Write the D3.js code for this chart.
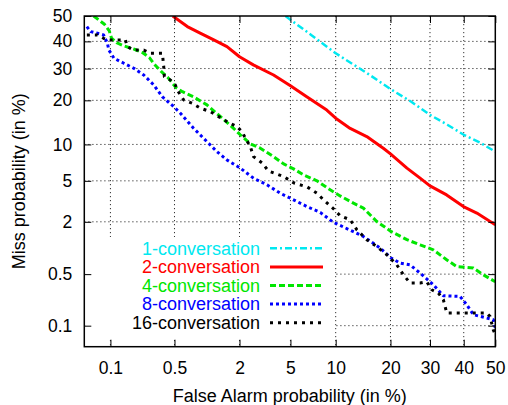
<!DOCTYPE html>
<html><head><meta charset="utf-8">
<script src="https://cdn.jsdelivr.net/npm/d3@7"></script>
<style>body{margin:0;background:#fff}svg{display:block}</style>
</head><body>
<svg id="chart" width="508" height="405"></svg>
<script>
// ---- data (percent values) ----
const tickValues = [0.1, 0.5, 2, 5, 10, 20, 30, 40, 50];
const tickLabels = ["0.1", "0.5", "2", "5", "10", "20", "30", "40", "50"];
const seriesNames = ["1-conversation", "2-conversation", "4-conversation", "8-conversation", "16-conversation"];

// [false alarm %, miss %]
const conv1 = [[4.6,50],[7,42.4],[10,35.5],[15,28.6],[20,23.3],[25,19.6],[30,16.2],[35,13.9],[40,11.8],[45,10.35],[50,8.8]];
const conv2 = [[0.48,50],[0.67,45.8],[0.89,43.2],[1.19,40.6],[1.56,38.0],[2.0,34.2],[2.6,31.3],[3.75,27.8],[5.0,24.3],[6.5,21.0],[8.8,17.4],[10,15.4],[12.2,13.1],[15.1,11.45],[18.5,9.3],[20,8.45],[23.9,6.45],[27.3,5.28],[30,4.5],[34.8,3.71],[39.9,2.86],[44.1,2.46],[50,1.86]];
const conv4 = [[0.063,50],[0.085,46.7],[0.097,44.1],[0.103,41.3],[0.118,39.5],[0.145,38.2],[0.188,37.0],[0.232,35.7],[0.274,33.9],[0.31,31.5],[0.365,29.0],[0.427,27.0],[0.52,23.7],[0.60,22.5],[0.77,21.0],[1.03,18.75],[1.36,15.8],[1.78,13.1],[2.03,11.8],[2.46,10.1],[2.96,9.36],[3.75,8.03],[4.46,7.0],[5.26,6.36],[6.18,5.65],[7.61,5.0],[9.24,4.14],[10.64,3.63],[12.74,3.09],[14.48,2.76],[17.08,2.01],[20.2,1.57],[23.9,1.28],[27.3,1.12],[30.95,0.98],[34.8,0.75],[37.85,0.62],[43.0,0.595],[46.2,0.49],[50,0.40]];
const conv8 = [[0.052,45.75],[0.058,43.8],[0.070,43.15],[0.083,42.5],[0.092,39.3],[0.096,36.7],[0.110,33.66],[0.143,31.86],[0.185,30.1],[0.238,27.8],[0.305,24.57],[0.374,21.05],[0.49,18.3],[0.573,16.6],[0.77,13.14],[1.03,10.5],[1.27,8.8],[1.56,7.55],[2.03,6.45],[2.61,5.28],[3.34,4.6],[4.21,3.85],[5.26,3.33],[6.53,2.86],[7.99,2.5],[9.70,1.97],[12.74,1.57],[14.48,1.39],[17.76,1.03],[20.16,0.785],[22.24,0.683],[24.7,0.65],[27.3,0.515],[30.95,0.366],[33.83,0.262],[38.86,0.257],[40.93,0.198],[43.0,0.144],[47.25,0.129],[49.36,0.122],[50,0.093]];
const conv16 = [[0.052,42.5],[0.070,42.5],[0.083,41.2],[0.092,40.55],[0.149,40.55],[0.156,38.0],[0.185,36.7],[0.238,36.7],[0.281,35.5],[0.376,35.5],[0.388,30.66],[0.394,27.26],[0.454,26.17],[0.51,24.57],[0.531,23.03],[0.617,20.12],[0.745,19.2],[0.894,17.88],[1.105,17.0],[1.317,15.77],[1.56,14.6],[1.90,13.48],[2.10,12.43],[2.24,11.14],[2.46,9.63],[2.61,8.03],[3.07,7.10],[3.42,6.11],[4.46,5.46],[5.26,4.80],[6.53,4.41],[7.61,3.85],[8.39,3.33],[9.70,2.72],[10.64,2.31],[12.2,2.10],[13.33,1.64],[15.1,1.28],[17.08,1.07],[19.19,0.86],[21.46,0.65],[23.03,0.49],[24.7,0.385],[27.3,0.385],[29.12,0.40],[30.5,0.315],[32.38,0.285],[33.83,0.232],[34.84,0.152],[41.96,0.152],[47.25,0.152],[48.3,0.136],[49.36,0.087],[50,0.074]];

// ---- styles ----
const seriesData = [conv1, conv2, conv4, conv8, conv16];
const seriesColors = ["#00e8f0", "#ff0000", "#00e600", "#0000ff", "#000000"];
const seriesDash = ["7,3,2,3", null, "6,3", "3,3", "3,5"];
const seriesWidth = [2.5, 3, 3, 3, 3];

// inverse normal CDF (Acklam)
function probit(p){
  const a=[-3.969683028665376e+01,2.209460984245205e+02,-2.759285104469687e+02,1.383577518672690e+02,-3.066479806614716e+01,2.506628277459239e+00];
  const b=[-5.447609879822406e+01,1.615858368580409e+02,-1.556989798598866e+02,6.680131188771972e+01,-1.328068155288572e+01];
  const c=[-7.784894002430293e-03,-3.223964580411365e-01,-2.400758277161838e+00,-2.549732539343734e+00,4.374664141464968e+00,2.938163982698783e+00];
  const d=[7.784695709041462e-03,3.224671290700398e-01,2.445134137142996e+00,3.754408661907416e+00];
  const pl=0.02425;
  if(p<pl){const q=Math.sqrt(-2*Math.log(p));return (((((c[0]*q+c[1])*q+c[2])*q+c[3])*q+c[4])*q+c[5])/((((d[0]*q+d[1])*q+d[2])*q+d[3])*q+1);}
  if(p<=1-pl){const q=p-0.5,r=q*q;return (((((a[0]*r+a[1])*r+a[2])*r+a[3])*r+a[4])*r+a[5])*q/(((((b[0]*r+b[1])*r+b[2])*r+b[3])*r+b[4])*r+1);}
  const q=Math.sqrt(-2*Math.log(1-p));return -(((((c[0]*q+c[1])*q+c[2])*q+c[3])*q+c[4])*q+c[5])/((((d[0]*q+d[1])*q+d[2])*q+d[3])*q+1);
}

const L = 84.3, R = 495.3, T = 16, B = 346.7;
const xLin = d3.scaleLinear().domain([-3.3, 0]).range([L, R]);
const yLin = d3.scaleLinear().domain([-3.3, 0]).range([B, T]);
const xs = v => xLin(probit(v / 100));
const ys = v => yLin(probit(v / 100));
const tickProbit = tickValues.map(t => probit(t / 100));

const svg = d3.select("#chart");
const font = "'Liberation Sans', Arial, Helvetica, sans-serif";

// grid
const grid = svg.append("g").attr("stroke", "#333").attr("stroke-width", 1).attr("stroke-dasharray", "1.2,2.8");
grid.selectAll("line.gx").data(tickProbit.filter(v => v < -0.001)).join("line")
  .attr("x1", d => xLin(d)).attr("x2", d => xLin(d)).attr("y1", T).attr("y2", B);
grid.selectAll("line.gy").data(tickProbit.filter(v => v < -0.001)).join("line").attr("class","gy")
  .attr("y1", d => yLin(d)).attr("y2", d => yLin(d)).attr("x1", L).attr("x2", R);

// legend background
svg.append("rect").attr("x", L + 1).attr("y", 237).attr("width", 334 - L - 1).attr("height", 103).attr("fill", "#fff");

// curves
svg.append("clipPath").attr("id", "clip").append("rect")
  .attr("x", L).attr("y", T).attr("width", R - L).attr("height", B - T);
const line = d3.line().x(d => xs(d[0])).y(d => ys(d[1]));
const curves = svg.append("g").attr("clip-path", "url(#clip)");
seriesData.forEach((s, i) => {
  curves.append("path").datum(s).attr("d", line).attr("fill", "none")
    .attr("stroke", seriesColors[i]).attr("stroke-width", seriesWidth[i])
    .attr("stroke-dasharray", seriesDash[i]).attr("stroke-linejoin", "round");
});

// axes (inward mirrored ticks)
function styleAxis(g){ g.select(".domain").remove(); g.selectAll("line").attr("stroke","#000").attr("stroke-width",1);
  g.selectAll("text").attr("font-family", font).attr("font-size", "17.5px").attr("fill", "#000"); }
svg.append("g").attr("transform", `translate(0,${B})`)
  .call(d3.axisBottom(xLin).tickValues(tickProbit).tickFormat((d,i) => tickLabels[i]).tickSizeInner(-7).tickSizeOuter(0).tickPadding(15))
  .call(styleAxis);
svg.append("g").attr("transform", `translate(0,${T})`)
  .call(d3.axisTop(xLin).tickValues(tickProbit).tickFormat("").tickSizeInner(-7).tickSizeOuter(0)).call(styleAxis);
svg.append("g").attr("transform", `translate(${L},0)`)
  .call(d3.axisLeft(yLin).tickValues(tickProbit).tickFormat((d,i) => tickLabels[i]).tickSizeInner(-7).tickSizeOuter(0).tickPadding(12))
  .call(styleAxis);
svg.append("g").attr("transform", `translate(${R},0)`)
  .call(d3.axisRight(yLin).tickValues(tickProbit).tickFormat("").tickSizeInner(-7).tickSizeOuter(0)).call(styleAxis);

// frame
svg.append("rect").attr("x", L).attr("y", T).attr("width", R - L).attr("height", B - T)
  .attr("fill", "none").attr("stroke", "#000").attr("stroke-width", 1.5);

// axis titles
svg.append("text").attr("x", (L + R) / 2).attr("y", 401.5).attr("text-anchor", "middle")
  .attr("font-family", font).attr("font-size", "18px").text("False Alarm probability (in %)");
svg.append("text").attr("transform", `translate(25,${(T + B) / 2}) rotate(-90)`).attr("text-anchor", "middle")
  .attr("font-family", font).attr("font-size", "18px").text("Miss probability (in %)");

// legend
const leg = svg.append("g");
seriesNames.forEach((n, i) => {
  const yy = 248.3 + i * 18.6;
  leg.append("text").attr("x", 260).attr("y", yy).attr("dy", "0.35em").attr("text-anchor", "end")
    .attr("font-family", font).attr("font-size", "18px").attr("fill", seriesColors[i]).text(n);
  leg.append("line").attr("x1", 270).attr("x2", 323).attr("y1", yy).attr("y2", yy)
    .attr("stroke", seriesColors[i]).attr("stroke-width", seriesWidth[i]).attr("stroke-dasharray", seriesDash[i]);
});
</script>
</body></html>
